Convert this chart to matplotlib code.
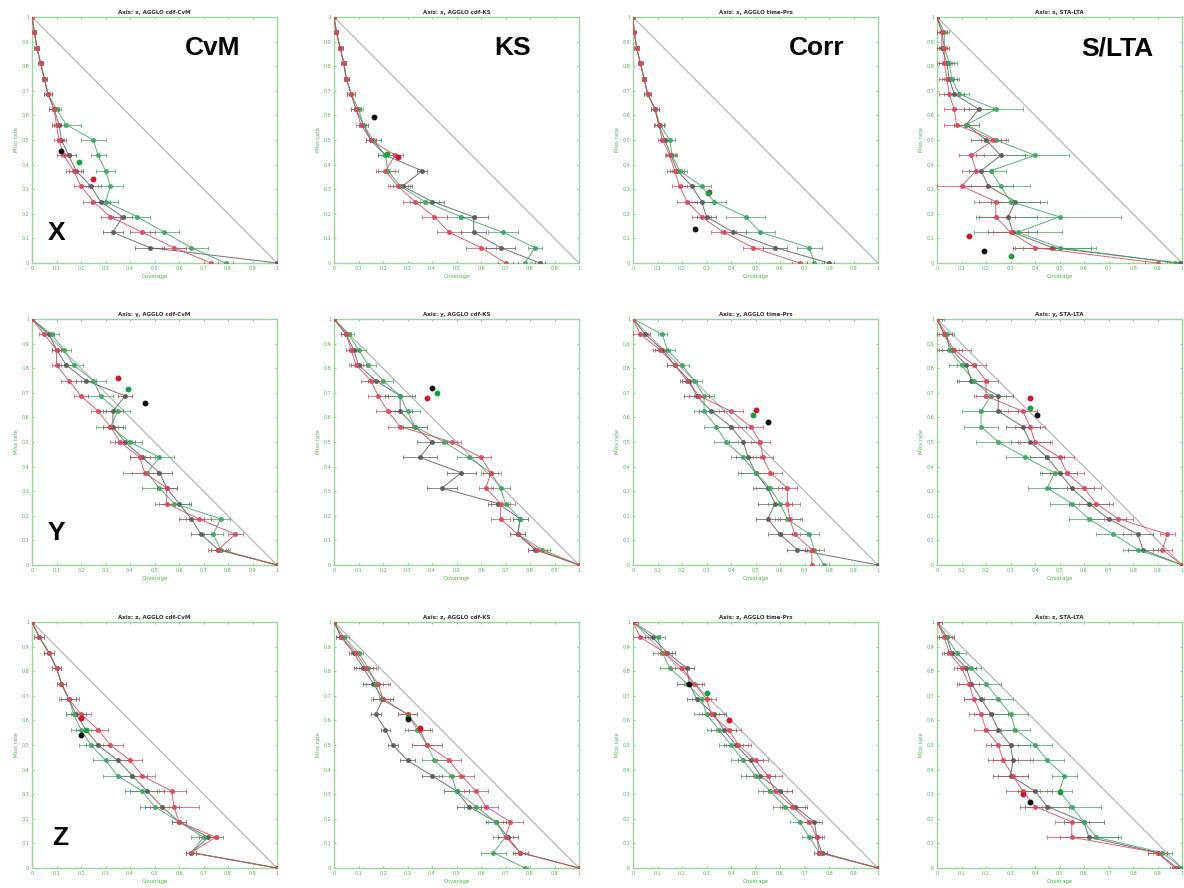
import matplotlib
matplotlib.use('Agg')
import matplotlib.pyplot as plt

# ---------------- data ----------------
MISS_RATE = [1.0, 0.9375, 0.875, 0.8125, 0.75, 0.6875, 0.625, 0.5625, 0.5,
             0.4375, 0.375, 0.3125, 0.25, 0.1875, 0.125, 0.0625, 0.0]
TICKS = [0, 0.1, 0.2, 0.3, 0.4, 0.5, 0.6, 0.7, 0.8, 0.9, 1.0]
TICK_LABELS = ['0', '0.1', '0.2', '0.3', '0.4', '0.5', '0.6', '0.7', '0.8', '0.9', '1']
AXIS_NAMES = ['x', 'y', 'z']
METHODS = ['AGGLO cdf-CvM', 'AGGLO cdf-KS', 'AGGLO time-Prs', 'STA-LTA']
METHOD_TAGS = ['CvM', 'KS', 'Corr', 'S/LTA']
ROW_TAGS = ['X', 'Y', 'Z']

# ---- Axis x ----
x_cvm_red = [0.0, 0.01, 0.02, 0.035, 0.05, 0.065, 0.09, 0.10, 0.11, 0.13, 0.17, 0.20, 0.25, 0.32, 0.45, 0.58, 0.73]
x_cvm_red_err = [0.0, 0.005, 0.01, 0.01, 0.01, 0.015, 0.02, 0.02, 0.02, 0.03, 0.03, 0.03, 0.04, 0.04, 0.05, 0.05, 0.03]
x_cvm_green = [0.0, 0.01, 0.02, 0.035, 0.05, 0.065, 0.10, 0.14, 0.25, 0.27, 0.30, 0.32, 0.30, 0.43, 0.54, 0.65, 0.79]
x_cvm_green_err = [0.0, 0.005, 0.01, 0.01, 0.01, 0.015, 0.02, 0.06, 0.05, 0.03, 0.04, 0.05, 0.05, 0.05, 0.06, 0.07, 0.03]
x_cvm_gray = [0.0, 0.01, 0.02, 0.035, 0.05, 0.065, 0.09, 0.11, 0.12, 0.15, 0.18, 0.24, 0.28, 0.37, 0.33, 0.48, 1.0]
x_cvm_gray_err = [0.0, 0.005, 0.01, 0.01, 0.01, 0.015, 0.02, 0.02, 0.02, 0.03, 0.03, 0.04, 0.04, 0.04, 0.04, 0.06, 0.0]
x_cvm_dots_x = [0.25, 0.19, 0.12]
x_cvm_dots_y = [0.34, 0.41, 0.455]

x_ks_red = [0.0, 0.01, 0.025, 0.04, 0.05, 0.07, 0.09, 0.11, 0.15, 0.25, 0.21, 0.26, 0.33, 0.41, 0.47, 0.60, 0.70]
x_ks_red_err = [0.0, 0.005, 0.01, 0.01, 0.01, 0.015, 0.02, 0.02, 0.02, 0.03, 0.04, 0.04, 0.05, 0.05, 0.05, 0.06, 0.03]
x_ks_green = [0.0, 0.01, 0.025, 0.04, 0.05, 0.07, 0.10, 0.12, 0.16, 0.21, 0.22, 0.27, 0.37, 0.52, 0.69, 0.82, 0.78]
x_ks_green_err = [0.0, 0.005, 0.01, 0.01, 0.01, 0.015, 0.02, 0.02, 0.03, 0.03, 0.04, 0.04, 0.06, 0.06, 0.06, 0.03, 0.03]
x_ks_gray = [0.0, 0.01, 0.025, 0.04, 0.05, 0.07, 0.09, 0.12, 0.15, 0.21, 0.36, 0.28, 0.40, 0.57, 0.57, 0.68, 0.84]
x_ks_gray_err = [0.0, 0.005, 0.01, 0.01, 0.01, 0.015, 0.02, 0.02, 0.02, 0.03, 0.02, 0.04, 0.05, 0.06, 0.05, 0.06, 0.02]
x_ks_dots_x = [0.26, 0.215, 0.165]
x_ks_dots_y = [0.43, 0.445, 0.595]

x_corr_red = [0.0, 0.005, 0.015, 0.03, 0.045, 0.06, 0.09, 0.105, 0.12, 0.15, 0.17, 0.19, 0.22, 0.28, 0.37, 0.49, 0.68]
x_corr_red_err = [0.0, 0.005, 0.01, 0.01, 0.01, 0.015, 0.015, 0.02, 0.02, 0.02, 0.03, 0.03, 0.04, 0.04, 0.05, 0.04, 0.03]
x_corr_green = [0.0, 0.005, 0.015, 0.03, 0.045, 0.06, 0.09, 0.11, 0.15, 0.16, 0.19, 0.28, 0.33, 0.46, 0.52, 0.72, 0.74]
x_corr_green_err = [0.0, 0.005, 0.01, 0.01, 0.01, 0.015, 0.015, 0.02, 0.02, 0.02, 0.03, 0.04, 0.05, 0.08, 0.06, 0.05, 0.03]
x_corr_gray = [0.0, 0.005, 0.015, 0.03, 0.045, 0.06, 0.09, 0.105, 0.13, 0.155, 0.18, 0.24, 0.28, 0.30, 0.41, 0.58, 0.80]
x_corr_gray_err = [0.0, 0.005, 0.01, 0.01, 0.01, 0.015, 0.015, 0.02, 0.02, 0.02, 0.03, 0.04, 0.05, 0.04, 0.05, 0.05, 0.02]
x_corr_dots_x = [0.31, 0.305, 0.255]
x_corr_dots_y = [0.29, 0.285, 0.14]

x_slta_red = [0.0, 0.02, 0.03, 0.03, 0.04, 0.05, 0.07, 0.08, 0.23, 0.14, 0.16, 0.10, 0.24, 0.24, 0.30, 0.40, 0.90]
x_slta_red_err = [0.0, 0.02, 0.02, 0.03, 0.03, 0.04, 0.04, 0.05, 0.05, 0.05, 0.06, 0.10, 0.07, 0.08, 0.07, 0.08, 0.05]
x_slta_green = [0.0, 0.03, 0.03, 0.05, 0.06, 0.09, 0.24, 0.12, 0.24, 0.40, 0.22, 0.26, 0.30, 0.50, 0.33, 0.50, 0.97]
x_slta_green_err = [0.0, 0.02, 0.02, 0.03, 0.03, 0.04, 0.11, 0.05, 0.05, 0.14, 0.06, 0.12, 0.15, 0.25, 0.18, 0.15, 0.03]
x_slta_gray = [0.0, 0.02, 0.02, 0.04, 0.05, 0.07, 0.17, 0.12, 0.20, 0.26, 0.18, 0.21, 0.32, 0.29, 0.31, 0.47, 0.99]
x_slta_gray_err = [0.0, 0.02, 0.02, 0.03, 0.03, 0.04, 0.06, 0.05, 0.06, 0.10, 0.05, 0.10, 0.10, 0.12, 0.10, 0.16, 0.02]
x_slta_dots_x = [0.13, 0.30, 0.19]
x_slta_dots_y = [0.11, 0.03, 0.05]

# ---- Axis y ----
y_cvm_red = [0.0, 0.05, 0.10, 0.10, 0.15, 0.20, 0.27, 0.32, 0.36, 0.44, 0.46, 0.55, 0.55, 0.68, 0.83, 0.76, 1.0]
y_cvm_red_err = [0.01, 0.02, 0.02, 0.02, 0.03, 0.03, 0.03, 0.03, 0.04, 0.04, 0.05, 0.04, 0.05, 0.05, 0.03, 0.04, 0.0]
y_cvm_green = [0.0, 0.08, 0.13, 0.17, 0.25, 0.28, 0.35, 0.32, 0.40, 0.52, 0.47, 0.52, 0.58, 0.77, 0.74, 0.77, 1.0]
y_cvm_green_err = [0.01, 0.03, 0.03, 0.04, 0.05, 0.05, 0.05, 0.06, 0.05, 0.06, 0.10, 0.07, 0.06, 0.04, 0.04, 0.04, 0.0]
y_cvm_gray = [0.0, 0.07, 0.10, 0.14, 0.22, 0.38, 0.33, 0.33, 0.38, 0.45, 0.52, 0.55, 0.60, 0.65, 0.69, 0.76, 1.0]
y_cvm_gray_err = [0.01, 0.02, 0.02, 0.03, 0.04, 0.03, 0.04, 0.04, 0.04, 0.05, 0.05, 0.04, 0.05, 0.05, 0.04, 0.03, 0.0]
y_cvm_dots_x = [0.35, 0.39, 0.46]
y_cvm_dots_y = [0.76, 0.715, 0.66]

y_ks_red = [0.0, 0.05, 0.07, 0.09, 0.15, 0.18, 0.22, 0.27, 0.48, 0.60, 0.64, 0.62, 0.68, 0.68, 0.75, 0.83, 1.0]
y_ks_red_err = [0.01, 0.02, 0.02, 0.03, 0.04, 0.04, 0.05, 0.05, 0.04, 0.04, 0.03, 0.03, 0.04, 0.04, 0.03, 0.04, 0.0]
y_ks_green = [0.0, 0.06, 0.10, 0.14, 0.20, 0.27, 0.30, 0.33, 0.45, 0.55, 0.64, 0.68, 0.70, 0.76, 0.75, 0.85, 1.0]
y_ks_green_err = [0.01, 0.02, 0.03, 0.03, 0.04, 0.05, 0.05, 0.05, 0.05, 0.05, 0.04, 0.04, 0.04, 0.03, 0.03, 0.03, 0.0]
y_ks_gray = [0.0, 0.05, 0.08, 0.10, 0.17, 0.27, 0.27, 0.33, 0.40, 0.35, 0.52, 0.44, 0.67, 0.76, 0.75, 0.82, 1.0]
y_ks_gray_err = [0.01, 0.02, 0.02, 0.03, 0.03, 0.06, 0.05, 0.05, 0.06, 0.07, 0.06, 0.06, 0.04, 0.03, 0.03, 0.03, 0.0]
y_ks_dots_x = [0.38, 0.42, 0.40]
y_ks_dots_y = [0.68, 0.70, 0.72]

y_corr_red = [0.0, 0.03, 0.11, 0.17, 0.22, 0.27, 0.40, 0.48, 0.52, 0.53, 0.56, 0.63, 0.63, 0.64, 0.66, 0.73, 0.73]
y_corr_red_err = [0.01, 0.03, 0.03, 0.03, 0.03, 0.04, 0.05, 0.05, 0.04, 0.04, 0.05, 0.04, 0.05, 0.05, 0.05, 0.03, 0.0]
y_corr_green = [0.0, 0.12, 0.14, 0.20, 0.25, 0.29, 0.29, 0.34, 0.38, 0.45, 0.50, 0.56, 0.60, 0.63, 0.72, 0.74, 0.78]
y_corr_green_err = [0.01, 0.02, 0.03, 0.03, 0.03, 0.04, 0.04, 0.05, 0.05, 0.05, 0.06, 0.06, 0.05, 0.05, 0.04, 0.04, 0.02]
y_corr_gray = [0.0, 0.05, 0.12, 0.17, 0.23, 0.26, 0.32, 0.40, 0.45, 0.47, 0.50, 0.55, 0.58, 0.55, 0.60, 0.67, 1.0]
y_corr_gray_err = [0.01, 0.02, 0.03, 0.03, 0.03, 0.05, 0.05, 0.06, 0.06, 0.05, 0.07, 0.06, 0.07, 0.05, 0.05, 0.04, 0.0]
y_corr_dots_x = [0.50, 0.49, 0.55]
y_corr_dots_y = [0.63, 0.61, 0.58]

y_slta_red = [0.0, 0.03, 0.07, 0.15, 0.20, 0.20, 0.35, 0.38, 0.40, 0.50, 0.53, 0.60, 0.65, 0.74, 0.94, 0.92, 1.0]
y_slta_red_err = [0.02, 0.03, 0.07, 0.05, 0.05, 0.05, 0.06, 0.06, 0.07, 0.06, 0.07, 0.07, 0.07, 0.06, 0.03, 0.04, 0.0]
y_slta_green = [0.0, 0.04, 0.05, 0.10, 0.15, 0.22, 0.18, 0.18, 0.25, 0.36, 0.48, 0.45, 0.55, 0.62, 0.72, 0.82, 1.0]
y_slta_green_err = [0.03, 0.03, 0.04, 0.05, 0.06, 0.06, 0.08, 0.07, 0.09, 0.08, 0.06, 0.08, 0.09, 0.08, 0.07, 0.06, 0.0]
y_slta_gray = [0.0, 0.03, 0.06, 0.12, 0.14, 0.25, 0.25, 0.35, 0.38, 0.45, 0.50, 0.55, 0.62, 0.70, 0.82, 0.84, 1.0]
y_slta_gray_err = [0.02, 0.03, 0.04, 0.04, 0.06, 0.06, 0.08, 0.07, 0.08, 0.07, 0.07, 0.09, 0.08, 0.07, 0.06, 0.06, 0.0]
y_slta_dots_x = [0.38, 0.38, 0.41]
y_slta_dots_y = [0.68, 0.64, 0.61]

# ---- Axis z ----
z_cvm_red = [0.0, 0.03, 0.07, 0.10, 0.12, 0.15, 0.20, 0.27, 0.32, 0.40, 0.45, 0.57, 0.58, 0.60, 0.75, 0.65, 1.0]
z_cvm_red_err = [0.01, 0.02, 0.02, 0.02, 0.02, 0.04, 0.04, 0.04, 0.05, 0.05, 0.05, 0.06, 0.10, 0.03, 0.03, 0.02, 0.0]
z_cvm_green = [0.0, 0.03, 0.07, 0.10, 0.12, 0.15, 0.17, 0.20, 0.24, 0.30, 0.35, 0.45, 0.50, 0.60, 0.70, 0.65, 1.0]
z_cvm_green_err = [0.01, 0.02, 0.02, 0.02, 0.02, 0.03, 0.03, 0.04, 0.05, 0.05, 0.06, 0.07, 0.06, 0.03, 0.05, 0.02, 0.0]
z_cvm_gray = [0.0, 0.03, 0.07, 0.10, 0.12, 0.15, 0.18, 0.22, 0.27, 0.35, 0.41, 0.47, 0.53, 0.60, 0.72, 0.65, 1.0]
z_cvm_gray_err = [0.01, 0.02, 0.02, 0.02, 0.02, 0.03, 0.04, 0.04, 0.05, 0.05, 0.06, 0.07, 0.07, 0.03, 0.04, 0.02, 0.0]
z_cvm_dots_x = [0.20, 0.22, 0.20]
z_cvm_dots_y = [0.61, 0.56, 0.54]

z_ks_red = [0.0, 0.03, 0.09, 0.13, 0.18, 0.20, 0.30, 0.35, 0.38, 0.47, 0.52, 0.58, 0.62, 0.72, 0.70, 0.76, 1.0]
z_ks_red_err = [0.01, 0.02, 0.02, 0.04, 0.05, 0.04, 0.04, 0.05, 0.06, 0.05, 0.05, 0.05, 0.05, 0.05, 0.03, 0.02, 0.0]
z_ks_green = [0.0, 0.04, 0.10, 0.14, 0.17, 0.19, 0.30, 0.34, 0.38, 0.41, 0.48, 0.50, 0.58, 0.66, 0.70, 0.65, 0.78]
z_ks_green_err = [0.01, 0.02, 0.02, 0.04, 0.05, 0.04, 0.04, 0.05, 0.06, 0.05, 0.05, 0.05, 0.05, 0.03, 0.05, 0.05, 0.01]
z_ks_gray = [0.0, 0.03, 0.08, 0.12, 0.16, 0.20, 0.17, 0.21, 0.24, 0.30, 0.40, 0.50, 0.55, 0.66, 0.71, 0.76, 1.0]
z_ks_gray_err = [0.01, 0.02, 0.02, 0.04, 0.04, 0.04, 0.02, 0.02, 0.02, 0.03, 0.04, 0.05, 0.05, 0.04, 0.04, 0.03, 0.0]
z_ks_dots_x = [0.35, 0.30, 0.30]
z_ks_dots_y = [0.57, 0.615, 0.605]

z_corr_red = [0.0, 0.03, 0.13, 0.20, 0.25, 0.30, 0.32, 0.39, 0.43, 0.50, 0.55, 0.58, 0.65, 0.72, 0.75, 0.76, 1.0]
z_corr_red_err = [0.02, 0.03, 0.03, 0.03, 0.04, 0.04, 0.05, 0.05, 0.05, 0.05, 0.06, 0.05, 0.05, 0.04, 0.03, 0.02, 0.0]
z_corr_green = [0.0, 0.10, 0.12, 0.15, 0.22, 0.28, 0.30, 0.35, 0.40, 0.45, 0.50, 0.56, 0.62, 0.68, 0.72, 0.76, 1.0]
z_corr_green_err = [0.02, 0.03, 0.04, 0.04, 0.04, 0.04, 0.05, 0.05, 0.05, 0.05, 0.06, 0.05, 0.05, 0.04, 0.03, 0.02, 0.0]
z_corr_gray = [0.0, 0.08, 0.14, 0.22, 0.23, 0.26, 0.33, 0.37, 0.42, 0.48, 0.52, 0.60, 0.66, 0.74, 0.75, 0.77, 1.0]
z_corr_gray_err = [0.02, 0.03, 0.03, 0.03, 0.05, 0.04, 0.05, 0.05, 0.05, 0.05, 0.06, 0.05, 0.05, 0.03, 0.02, 0.02, 0.0]
z_corr_dots_x = [0.39, 0.30, 0.23]
z_corr_dots_y = [0.60, 0.71, 0.75]

z_slta_red = [0.0, 0.03, 0.05, 0.10, 0.13, 0.15, 0.18, 0.20, 0.25, 0.27, 0.31, 0.35, 0.40, 0.55, 0.55, 0.90, 0.97]
z_slta_red_err = [0.02, 0.03, 0.03, 0.03, 0.04, 0.04, 0.05, 0.05, 0.05, 0.06, 0.06, 0.07, 0.06, 0.07, 0.10, 0.04, 0.02]
z_slta_green = [0.0, 0.04, 0.08, 0.14, 0.20, 0.25, 0.30, 0.32, 0.40, 0.45, 0.52, 0.50, 0.55, 0.60, 0.65, 0.92, 1.0]
z_slta_green_err = [0.02, 0.03, 0.04, 0.04, 0.06, 0.06, 0.07, 0.06, 0.07, 0.07, 0.05, 0.05, 0.12, 0.08, 0.10, 0.04, 0.0]
z_slta_gray = [0.0, 0.04, 0.06, 0.12, 0.14, 0.18, 0.22, 0.25, 0.30, 0.31, 0.30, 0.40, 0.45, 0.60, 0.62, 0.90, 0.98]
z_slta_gray_err = [0.02, 0.03, 0.03, 0.04, 0.06, 0.07, 0.07, 0.06, 0.08, 0.08, 0.07, 0.07, 0.09, 0.08, 0.12, 0.04, 0.02]
z_slta_dots_x = [0.35, 0.50, 0.38]
z_slta_dots_y = [0.30, 0.31, 0.27]

PANELS = [
    [(x_cvm_red, x_cvm_red_err, x_cvm_green, x_cvm_green_err, x_cvm_gray, x_cvm_gray_err, x_cvm_dots_x, x_cvm_dots_y),
     (x_ks_red, x_ks_red_err, x_ks_green, x_ks_green_err, x_ks_gray, x_ks_gray_err, x_ks_dots_x, x_ks_dots_y),
     (x_corr_red, x_corr_red_err, x_corr_green, x_corr_green_err, x_corr_gray, x_corr_gray_err, x_corr_dots_x, x_corr_dots_y),
     (x_slta_red, x_slta_red_err, x_slta_green, x_slta_green_err, x_slta_gray, x_slta_gray_err, x_slta_dots_x, x_slta_dots_y)],
    [(y_cvm_red, y_cvm_red_err, y_cvm_green, y_cvm_green_err, y_cvm_gray, y_cvm_gray_err, y_cvm_dots_x, y_cvm_dots_y),
     (y_ks_red, y_ks_red_err, y_ks_green, y_ks_green_err, y_ks_gray, y_ks_gray_err, y_ks_dots_x, y_ks_dots_y),
     (y_corr_red, y_corr_red_err, y_corr_green, y_corr_green_err, y_corr_gray, y_corr_gray_err, y_corr_dots_x, y_corr_dots_y),
     (y_slta_red, y_slta_red_err, y_slta_green, y_slta_green_err, y_slta_gray, y_slta_gray_err, y_slta_dots_x, y_slta_dots_y)],
    [(z_cvm_red, z_cvm_red_err, z_cvm_green, z_cvm_green_err, z_cvm_gray, z_cvm_gray_err, z_cvm_dots_x, z_cvm_dots_y),
     (z_ks_red, z_ks_red_err, z_ks_green, z_ks_green_err, z_ks_gray, z_ks_gray_err, z_ks_dots_x, z_ks_dots_y),
     (z_corr_red, z_corr_red_err, z_corr_green, z_corr_green_err, z_corr_gray, z_corr_gray_err, z_corr_dots_x, z_corr_dots_y),
     (z_slta_red, z_slta_red_err, z_slta_green, z_slta_green_err, z_slta_gray, z_slta_gray_err, z_slta_dots_x, z_slta_dots_y)],
]

# ---------------- styling ----------------
RED = '#e0455a'
GREEN = '#3aa860'
GRAY = '#5a5a5a'
SPINE = '#9ad89a'
TICKC = '#4cb84c'
DOT_COLORS = ['#d8102a', '#18a040', '#101010']

W, H = 1184, 888
fig = plt.figure(figsize=(W / 100, H / 100), dpi=100)
fig.patch.set_facecolor('white')

col_left = [32, 334, 633, 937]
row_top = [17, 319, 622]
pw, ph = 245, 246

for r in range(3):
    for c in range(4):
        red, red_e, grn, grn_e, gry, gry_e, dx, dy = PANELS[r][c]
        ax = fig.add_axes([col_left[c] / W, 1 - (row_top[r] + ph) / H, pw / W, ph / H])
        ax.plot([0, 1], [1, 0], color='#b8b8b8', lw=0.9, zorder=1)
        for xs, es, col in ((gry, gry_e, GRAY), (grn, grn_e, GREEN), (red, red_e, RED)):
            ax.errorbar(xs, MISS_RATE, xerr=es, color=col, marker='o', ms=2.6,
                        mfc=col, mec=col, lw=0.7, elinewidth=0.6, capsize=1.6,
                        capthick=0.6, alpha=0.85, zorder=3)
        for px, py, dc in zip(dx, dy, DOT_COLORS):
            ax.plot([px], [py], 'o', color=dc, ms=3.2, zorder=5)
        ax.set_xlim(0, 1)
        ax.set_ylim(0, 1)
        ax.set_xticks(TICKS)
        ax.set_xticklabels(TICK_LABELS)
        ax.set_yticks(TICKS)
        ax.set_yticklabels(TICK_LABELS)
        ax.tick_params(colors=TICKC, labelsize=3.5, length=1.5, width=0.5, pad=2,
                       direction='in', top=True, right=True)
        for s in ax.spines.values():
            s.set_color(SPINE)
            s.set_linewidth(1.0)
        ax.set_title(f'Axis: {AXIS_NAMES[r]}, {METHODS[c]}', fontsize=4,
                     fontweight='bold', color='#303030', pad=2)
        ax.set_xlabel('Coverage', fontsize=4, color=TICKC, labelpad=2)
        ax.set_ylabel('Miss rate', fontsize=4, color=TICKC, labelpad=2)

big = dict(fontfamily='Liberation Sans', fontweight='bold', fontsize=19,
           color='black', ha='center', va='center')
tag_x = [213, 513, 817, 1117]
for c in range(4):
    fig.text(tag_x[c] / W, 1 - 48 / H, METHOD_TAGS[c], **big)
row_tag_pos = [(57, 233), (56, 533), (60, 838)]
for r in range(3):
    fig.text(row_tag_pos[r][0] / W, 1 - row_tag_pos[r][1] / H, ROW_TAGS[r], **big)

fig.savefig('out.png', dpi=100, facecolor='white')
